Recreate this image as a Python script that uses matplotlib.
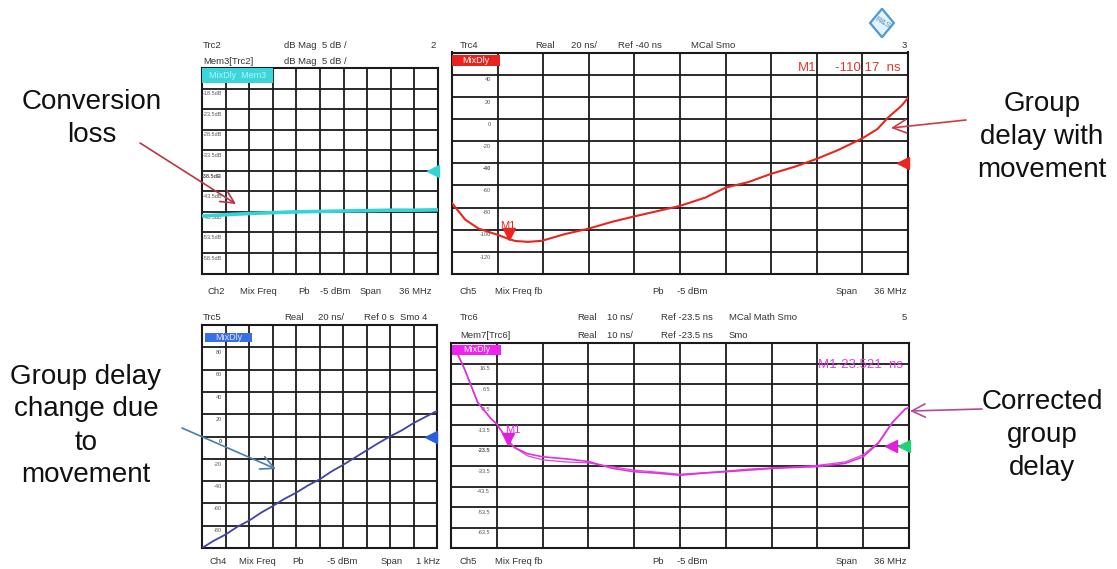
import numpy as np
import matplotlib
matplotlib.use('Agg')
import matplotlib.pyplot as plt
from matplotlib.patches import Rectangle, FancyArrowPatch, Polygon
from matplotlib.transforms import ScaledTranslation

plt.rcParams['font.family'] = ['Liberation Sans', 'DejaVu Sans']

W, H = 1117, 569

# ---- values ----
# Trc2 / Mem3: conversion loss, dB over the 36 MHz span
cl_freq = [0, 3.6, 7.2, 10.8, 14.4, 18, 21.6, 25.2, 28.8, 32.4, 36]
cl_db = [-49.5, -49.2, -48.9, -48.7, -48.5, -48.4, -48.3, -48.2, -48.1, -48.1, -48.0]

# Trc4: group delay with movement, ns
gd_freq = [0, 1.05, 2.1, 3.7, 4.5, 5.0, 6.0, 7.1, 8.9, 10.8, 12.6, 14.4, 16.3, 18.0,
           20.0, 21.6, 23.4, 25.2, 27.1, 28.8, 30.5, 32.4, 33.6, 34.4, 35.5, 36]
gd_ns = [-76, -91, -99, -105, -108.5, -110.2, -111, -110, -104, -99, -93, -88, -83, -78.5,
         -71, -62, -57, -49.5, -43, -36, -28, -17.5, -9, 1, 12, 19]

# Trc5: group delay change due to movement, ns over 1 kHz span
gc_freq = [0, 50, 100, 150, 200, 250, 300, 350, 400, 450, 500, 550, 600, 650, 700,
           750, 800, 850, 900, 950, 1000]
gc_ns = [-100, -93.5, -88, -81, -75.5, -68.5, -62.5, -56, -50.5, -44, -38.5, -31.5,
         -25.5, -19, -12.5, -6, 0, 5.5, 12, 17.5, 23]

# Trc6 / Mem7: corrected group delay, ns
cg_freq = [0.3, 1.05, 2.1, 3.15, 3.6, 4.5, 5.0, 6.0, 7.2, 9.0, 10.8, 12.6, 14.4, 16.2,
           18.0, 19.8, 21.6, 23.4, 25.2, 27.0, 28.8, 31.0, 32.4, 33.6, 34.7, 35.7, 36]
cg_ns = [24, 14, -2.5, -10.5, -13, -21.5, -24.5, -27.5, -29.0, -30.0, -31.3, -34.5, -36.3,
         -37, -38, -37, -36.3, -35.5, -34.7, -34.2, -33.8, -32.2, -29, -22.3, -12.3, -5.7, -5]
mem_ns = [24, 14, -2.5, -10.5, -13, -21.5, -24.5, -28.5, -30.5, -31.5, -32.0, -33.8, -35.5,
          -36.5, -37.5, -36.8, -36.0, -35.0, -34.4, -34.0, -33.2, -31.5, -28, -22.0, -12.0, -5.7, -5]

m1_freq = 4.5
m1_gd = -110.17
m1_cg = -23.521

fig = plt.figure(figsize=(W / 100, H / 100), dpi=100)
fig.patch.set_facecolor('white')


def fx(x):
    return x / W


def fy(y):
    return 1 - y / H


def panel(box, xmax, ylo, yhi, ystep, ylabels, bold_idx):
    l, t, r, b = box
    ax = fig.add_axes([fx(l), fy(b), (r - l) / W, (b - t) / H])
    ax.set_xlim(0, xmax)
    ax.set_ylim(ylo, yhi)
    ax.set_xticks(np.linspace(0, xmax, 11))
    ax.set_yticks(np.arange(ylo, yhi + ystep / 2, ystep))
    ax.grid(True, color='#1a1a1a', lw=1.3)
    ax.set_axisbelow(True)
    ax.tick_params(length=0, labelbottom=False, labelleft=False)
    for s in ax.spines.values():
        s.set_linewidth(1.5)
        s.set_color('#1a1a1a')
    for i, lab in enumerate(ylabels):
        v = yhi - (i + 1) * ystep
        ax.annotate(lab, (0.085 * xmax, v), xytext=(0, -2), textcoords='offset points',
                    ha='right', va='top', fontsize=4.0, color='#555555',
                    fontweight='bold' if i == bold_idx else 'normal')
    return ax


def tag(ax, x0, y0, w, h, face, text, tcolor):
    ax.add_patch(Rectangle((x0, 1 - y0 - h), w, h, transform=ax.transAxes,
                           facecolor=face, edgecolor='none', zorder=5, clip_on=False))
    ax.text(x0 + w / 2, 1 - y0 - h / 2, text, transform=ax.transAxes, ha='center',
            va='center', fontsize=6.5, color=tcolor, zorder=6)


def small(x, y, s, ha='left', color='#333333', size=6.8):
    fig.text(fx(x), fy(y), s, ha=ha, va='center', fontsize=size, color=color)


# ---- panel 1: conversion loss ----
ax1 = panel((202, 68, 438, 273.5), 36, -63.5, -13.5, 5,
            ['-18.5dB', '-23.5dB', '-28.5dB', '-33.5dB', '-38.5dB', '-43.5dB',
             '-48.5dB', '-53.5dB', '-58.5dB'], 4)
ax1.plot(cl_freq, cl_db, color='#35d3d6', lw=2.6, zorder=3)
ax1.plot(35.3, -38.5, marker='<', ms=8, color='#35d3d6', clip_on=False, zorder=6)
tag(ax1, 0.0, 0.0, 0.30, 0.075, '#3ad6dc', 'MixDly  Mem3', '#b8f4f4')
small(203, 45, 'Trc2')
small(284, 45, 'dB Mag')
small(322, 45, '5 dB /')
small(436, 45, '2', ha='right')
small(203, 61, 'Mem3[Trc2]')
small(284, 61, 'dB Mag')
small(322, 61, '5 dB /')
for x, s in [(207, 'Ch2'), (240, 'Mix Freq'), (298, 'Pb'), (320, '-5 dBm'), (360, 'Span'), (399, '36 MHz')]:
    small(x, 291, s)

# ---- panel 2: group delay with movement ----
ax2 = panel((452, 52.5, 908, 274), 36, -140, 60, 20,
            ['40', '20', '0', '-20', '-40', '-60', '-80', '-100', '-120'], 4)
ax2.plot(gd_freq, gd_ns, color='#e8261e', lw=1.5, zorder=3)
ax2.plot(35.6, -40, marker='<', ms=9, color='#e8261e', clip_on=False, zorder=6)
ax2.plot(m1_freq, m1_gd, marker='v', ms=9, color='#e8261e', zorder=6,
         transform=ax2.transData + ScaledTranslation(0, 5 / 72, fig.dpi_scale_trans))
ax2.annotate('M1', (m1_freq, m1_gd), xytext=(-1, 11), textcoords='offset points',
             ha='center', va='center', fontsize=8, color='#e8261e')
tag(ax2, 0.0, 0.012, 0.105, 0.048, '#e8221c', 'MixDly', 'white')
small(798, 68, 'M1', color='#e03a30', size=9.5)
small(835, 68, '-110.17  ns', color='#e03a30', size=9.5)
small(460, 45, 'Trc4')
small(535, 45, 'Real')
small(571, 45, '20 ns/')
small(618, 45, 'Ref -40 ns')
small(691, 45, 'MCal Smo')
small(907, 45, '3', ha='right')
for x, s in [(459, 'Ch5'), (495, 'Mix Freq fb'), (652, 'Pb'), (677, '-5 dBm'), (836, 'Span'), (874, '36 MHz')]:
    small(x, 291, s)

# ---- panel 3: group delay change ----
ax3 = panel((202, 325, 437, 548), 1000, -100, 100, 20,
            ['80', '60', '40', '20', '0', '-20', '-40', '-60', '-80'], 4)
ax3.plot(gc_freq, gc_ns, color='#4343a6', lw=1.3, zorder=3)
ax3.plot(975, 0, marker='<', ms=9, color='#2a5ee0', clip_on=False, zorder=6)
tag(ax3, 0.013, 0.036, 0.2, 0.042, '#3a6ee8', 'MixDly', '#dde6ff')
small(203, 317, 'Trc5')
small(284, 317, 'Real')
small(318, 317, '20 ns/')
small(364, 317, 'Ref 0 s')
small(400, 317, 'Smo 4')
for x, s in [(209, 'Ch4'), (239, 'Mix Freq'), (292, 'Pb'), (327, '-5 dBm'), (381, 'Span'), (416, '1 kHz')]:
    small(x, 562, s)

# ---- panel 4: corrected group delay ----
ax4 = panel((451, 343, 909, 548), 36, -73.5, 26.5, 10,
            ['16.5', '6.5', '-3.5', '-13.5', '-23.5', '-33.5', '-43.5', '-53.5', '-63.5'], 4)
ax4.plot(cg_freq, mem_ns, color='#d84ad8', lw=0.9, zorder=3)
ax4.plot(cg_freq, cg_ns, color='#e030e0', lw=1.2, zorder=3)
ax4.plot(34.6, -23.5, marker='<', ms=9, color='#e020e0', clip_on=False, zorder=6)
ax4.plot(35.6, -23.5, marker='<', ms=9, color='#22d07a', clip_on=False, zorder=6)
ax4.plot(m1_freq, m1_cg, marker='v', ms=9, color='#e020e0', zorder=6,
         transform=ax4.transData + ScaledTranslation(0, 5 / 72, fig.dpi_scale_trans))
ax4.annotate('M1', (m1_freq, m1_cg), xytext=(3, 11), textcoords='offset points',
             ha='center', va='center', fontsize=8, color='#e020e0')
tag(ax4, 0.002, 0.008, 0.107, 0.05, '#f020f0', 'MixDly', 'white')
small(818, 365, 'M1-23.521  ns', color='#e040e0', size=9.5)
small(460, 318, 'Trc6')
small(577, 318, 'Real')
small(607, 318, '10 ns/')
small(661, 318, 'Ref -23.5 ns')
small(729, 318, 'MCal Math Smo')
small(907, 318, '5', ha='right')
small(460, 335, 'Mem7[Trc6]')
small(577, 335, 'Real')
small(607, 335, '10 ns/')
small(661, 335, 'Ref -23.5 ns')
small(729, 335, 'Smo')
for x, s in [(459, 'Ch5'), (495, 'Mix Freq fb'), (652, 'Pb'), (677, '-5 dBm'), (836, 'Span'), (874, '36 MHz')]:
    small(x, 562, s)

# ---- R&S logo ----
lg = fig.add_axes([fx(868), fy(38), 28 / W, 30 / H])
lg.set_xlim(-1, 1)
lg.set_ylim(-1, 1)
lg.axis('off')
lg.add_patch(Polygon([[0, 0.95], [0.85, 0], [0, -0.95], [-0.85, 0]], closed=True,
                     facecolor='#e6f2fb', edgecolor='#4a9ad6', lw=1.6))
lg.text(0, 0, 'R&S', ha='center', va='center', fontsize=6, color='#3f8fd0', rotation=-30)

# ---- callouts ----
big = dict(ha='center', va='center', fontsize=20, color='#111111', linespacing=1.35,
           family=['Liberation Sans', 'DejaVu Sans'])
fig.text(fx(92), fy(119), 'Conversion\nloss', **big)
fig.text(fx(1042), fy(137), 'Group\ndelay with\nmovement', **big)
fig.text(fx(86), fy(426), 'Group delay\nchange due\nto\nmovement', **big)
fig.text(fx(1042), fy(435), 'Corrected\ngroup\ndelay', **big)

for (x0, y0), (x1, y1), c in [((140, 143), (236, 204), '#b8344a'),
                              ((966, 120), (891, 128), '#cc3b45'),
                              ((182, 428), (276, 469), '#4a7fa8'),
                              ((982, 409), (910, 411), '#b04a9c')]:
    fig.add_artist(FancyArrowPatch((fx(x0), fy(y0)), (fx(x1), fy(y1)),
                                   transform=fig.transFigure, color=c, lw=1.2,
                                   arrowstyle='->,head_length=0.8,head_width=0.4',
                                   mutation_scale=12, shrinkA=0, shrinkB=0))

fig.savefig('out.png', dpi=100, facecolor='white')
